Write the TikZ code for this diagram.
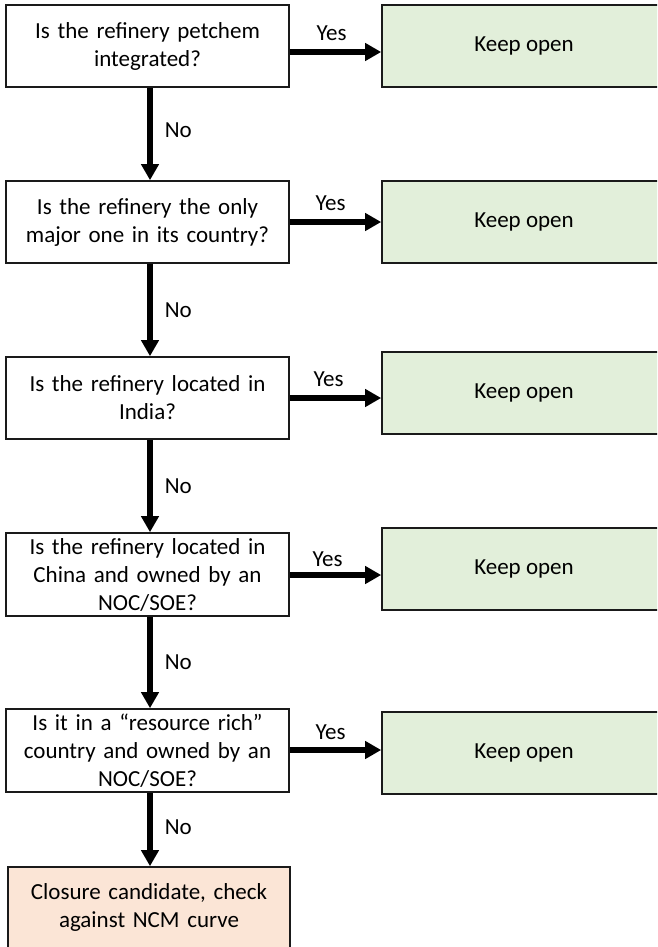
\documentclass[tikz,border=0pt]{standalone}
\usepackage{fontspec}
\setmainfont{Carlito}
\usetikzlibrary{arrows.meta}
\definecolor{keepgreen}{HTML}{E2EFDA}
\definecolor{closeorange}{HTML}{FBE5D6}
\definecolor{boxline}{HTML}{1A1A1A}
\begin{document}
\begin{tikzpicture}[x=1pt,y=-1pt,
  font=\fontsize{23}{28}\selectfont,
  qbox/.style={draw=boxline, line width=1.6pt, fill=white, minimum width=283pt, text width=270pt, align=center, inner sep=0pt},
  keepbox/.style={draw=boxline, line width=1.6pt, fill=keepgreen, minimum width=284pt, minimum height=82pt, align=center, inner sep=0pt},
  closebox/.style={draw=boxline, line width=1.6pt, fill=closeorange, minimum width=282pt, minimum height=81pt, text width=270pt, align=center, inner sep=0pt},
  flow/.style={line width=5.5pt, -{Triangle[length=16pt,width=17pt]}},
  lbl/.style={inner sep=0pt}
]
\useasboundingbox (0,0) rectangle (657,947);
\clip (0,0) rectangle (657,947);
\fill[white] (0,0) rectangle (657,947);

\node[qbox, minimum height=82pt] (q1) at (147.5,46) {Is the refinery petchem\\integrated?};
\node[qbox, minimum height=82pt] (q2) at (147.5,222) {Is the refinery the only\\major one in its country?};
\node[qbox, minimum height=82pt] (q3) at (147.5,398) {Is the refinery located in\\India?};
\node[qbox, minimum height=83pt] (q4) at (147.5,574.5) {Is the refinery located in\\China and owned by an\\NOC/SOE?};
\node[qbox, minimum height=83pt] (q5) at (147.5,750.5) {Is it in a “resource rich”\\country and owned by an\\NOC/SOE?};
\node[closebox] (c) at (149,907.5) {Closure candidate, check\\against NCM curve};

\node[keepbox] (k1) at (524,46) {Keep open};
\node[keepbox] (k2) at (524,222) {Keep open};
\node[keepbox] (k3) at (524,393) {Keep open};
\node[keepbox] (k4) at (524,569) {Keep open};
\node[keepbox] (k5) at (524,753) {Keep open};

\coordinate (ax) at (150,0);
\coordinate (y1) at (0,52);
\coordinate (y2) at (0,222);
\coordinate (y3) at (0,398);
\coordinate (y4) at (0,575);
\coordinate (y5) at (0,750);

\draw[flow] (q1.east |- y1) -- node[lbl, midway, yshift=19pt, xshift=-4pt] {Yes} (k1.west |- y1);
\draw[flow] (q2.east |- y2) -- node[lbl, midway, yshift=19pt, xshift=-5pt] {Yes} (k2.west |- y2);
\draw[flow] (q3.east |- y3) -- node[lbl, midway, yshift=19pt, xshift=-7pt] {Yes} (k3.west |- y3);
\draw[flow] (q4.east |- y4) -- node[lbl, midway, yshift=16pt, xshift=-8pt] {Yes} (k4.west |- y4);
\draw[flow] (q5.east |- y5) -- node[lbl, midway, yshift=18pt, xshift=-5pt] {Yes} (k5.west |- y5);

\draw[flow] (q1.south -| ax) -- node[lbl, midway, anchor=west, xshift=12pt, yshift=4pt] {No} (q2.north -| ax);
\draw[flow] (q2.south -| ax) -- node[lbl, midway, anchor=west, xshift=12pt] {No} (q3.north -| ax);
\draw[flow] (q3.south -| ax) -- node[lbl, midway, anchor=west, xshift=12pt] {No} (q4.north -| ax);
\draw[flow] (q4.south -| ax) -- node[lbl, midway, anchor=west, xshift=12pt] {No} (q5.north -| ax);
\draw[flow] (q5.south -| ax) -- node[lbl, midway, anchor=west, xshift=12pt, yshift=2pt] {No} (c.north -| ax);
\end{tikzpicture}
\end{document}
